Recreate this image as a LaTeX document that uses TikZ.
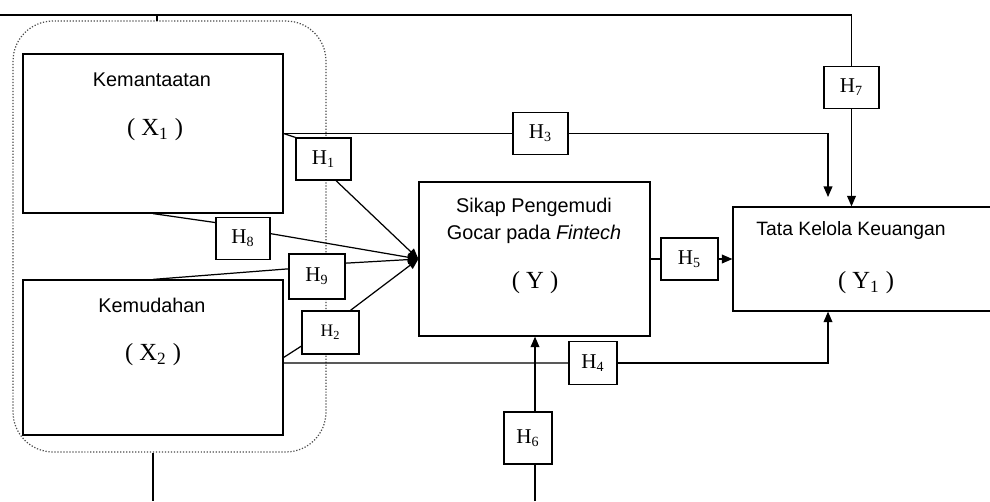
\documentclass[tikz,border=0pt]{standalone}
\usepackage{fontspec}
\setmainfont{Liberation Serif}
\setsansfont{Liberation Sans}
\usetikzlibrary{arrows.meta, calc}

\begin{document}
\begin{tikzpicture}[
  x=0.02cm, y=-0.02cm,
  line width=0.7pt,
  varbox/.style={draw, rectangle, inner sep=0pt},
  hbox/.style={draw, rectangle, inner sep=0pt, fill=white,
               minimum width=1.1cm, minimum height=0.84cm,
               font=\fontsize{12}{14}\selectfont\rmfamily},
  group/.style={draw, densely dotted, gray!60!black, rounded corners=0.8cm,
                inner sep=0pt},
  lbl/.style={font=\fontsize{11.3}{13}\selectfont\sffamily},
  sym/.style={font=\fontsize{14}{16}\selectfont\rmfamily},
  link/.style={line width=0.7pt},
  arr/.style={-{Triangle[length=6pt, width=5pt]}, line width=0.7pt}
]
\clip (0,0) rectangle (990,501);

%% Group of X1 and X2
\node[group, minimum width=6.26cm, minimum height=8.62cm] (grp) at (169.5,236.5) {};

%% Variables
\node[varbox, minimum width=5.2cm, minimum height=3.18cm] (x1) at (153,133.5) {};
\node[varbox, minimum width=5.2cm, minimum height=3.1cm]  (x2) at (153,357.5) {};
\node[varbox, minimum width=4.62cm, minimum height=3.08cm] (y) at (534.5,259) {};
\node[varbox, minimum width=5.4cm, minimum height=2.08cm] (y1) at (868,259) {};

\node[lbl] (x1name) at (152,80) {Kemantaatan};
\node[sym] (x1sym)  at (155,130) {( X\textsubscript{1} )};
\node[lbl] (x2name) at (152,305) {Kemudahan};
\node[sym] (x2sym)  at (153,355) {( X\textsubscript{2} )};
\node[lbl, align=center, font=\fontsize{11.3}{15}\selectfont\sffamily] (yname)
  at (534,221) {Sikap Pengemudi\\Gocar pada \textit{Fintech}};
\node[sym] (ysym)   at (535,283) {( Y )};
\node[lbl, anchor=west, font=\fontsize{11}{13}\selectfont\sffamily] (y1name)
  at (750,230) {Tata Kelola Keuangan};
\node[sym] (y1sym)  at (866,283) {( Y\textsubscript{1} )};

%% Hypotheses
\node[hbox] (h1) at (323.5,159)   {H\textsubscript{1}};
\node[hbox] (h3) at (540.5,133.5) {H\textsubscript{3}};
\node[hbox] (h7) at (851.5,87.5)  {H\textsubscript{7}};
\node[hbox, minimum width=1.08cm] (h8) at (243,238.5) {H\textsubscript{8}};
\node[hbox, minimum width=1.12cm, minimum height=0.9cm] (h9) at (317,276.5) {H\textsubscript{9}};
\node[hbox, minimum width=1.14cm, minimum height=0.86cm,
      font=\fontsize{10}{12}\selectfont\rmfamily] (h2) at (330.5,332.5) {H\textsubscript{2}};
\node[hbox, minimum width=1.14cm] (h5) at (689.5,259) {H\textsubscript{5}};
\node[hbox, minimum width=0.96cm, minimum height=0.86cm] (h4) at (593,363) {H\textsubscript{4}};
\node[hbox, minimum width=0.96cm, minimum height=1.04cm] (h6) at (528,438) {H\textsubscript{6}};

%% Free ends
\coordinate (gtop) at (157,21);
\coordinate (gbot) at (153,501);
\coordinate (h6bot) at (535,501);
\coordinate (h3end) at (828,197);
\coordinate (x2h4) at ($(x2.east)+(0,5.5)$);

%% Paths into Y
\draw[link] (x1.east) -- (h1.north west);
\draw[arr]  (h1.-60) -- (y.west);
\draw[link] (x1.south) -- (h8.150);
\draw[arr]  (h8.10) -- (y.west);
\draw[link] (x2.north) -- (h9.165);
\draw[arr]  (h9.25) -- (y.west);
\draw[link] (x2.east) -- (h2.205);
\draw[arr]  (h2.48) -- (y.west);

%% Paths into Y1
\draw[link] (x1.east) -- (h3.west);
\draw[arr]  (h3.east) -| (h3end);
\draw[link] (x2h4) -- (h4.west);
\draw[arr]  (h4.east) -| (y1.south -| h3end);
\draw[link] (y.east) -- (h5.west);
\draw[arr]  (h5.east) -- (y1.west);

%% Group as moderator
\draw[link] (gtop) |- (0,15) -| (h7.north);
\draw[arr]  (h7.south) -- (y1.north -| h7);
\draw[link] (grp.south -| gbot) -- (gbot);
\draw[link] (h6bot) -- (h6.south -| h6bot);
\draw[arr]  (h6.north -| h6bot) -- (y.south -| h6bot);
\end{tikzpicture}
\end{document}
